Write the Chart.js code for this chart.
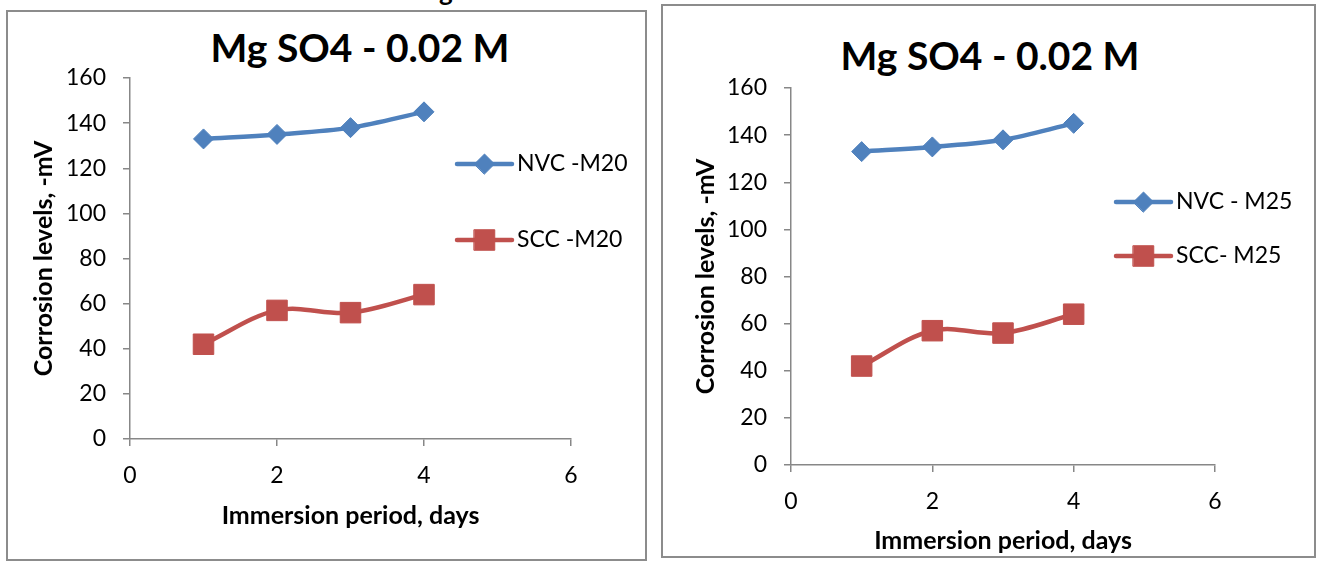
<!DOCTYPE html>
<html><head><meta charset="utf-8">
<script src="https://cdn.jsdelivr.net/npm/chart.js@4"></script>
<style>
html,body{margin:0;padding:0;background:#fff}
body{width:1317px;height:562px;position:relative;overflow:hidden;font-family:Lato,sans-serif}
.panel{position:absolute;border:2px solid #8c8c8c;box-sizing:border-box}
.title{position:absolute;font-weight:bold;font-size:39px;white-space:nowrap;transform:translate(-50%,-50%);color:#000;line-height:1}
.clip{position:absolute;font-weight:bold;font-size:26px;line-height:1;color:#000}
canvas{position:absolute}
</style></head><body>
<div class="clip" style="left:439px;top:-22px">g</div>
<div class="panel" style="left:6px;top:10px;width:641px;height:551px"></div>
<div class="panel" style="left:661px;top:4px;width:655px;height:554px"></div>
<div class="title" style="left:360px;top:47px">Mg SO4 - 0.02 M</div>
<div class="title" style="left:990px;top:55px">Mg SO4 - 0.02 M</div>
<canvas id="c1" width="639" height="549" style="left:7px;top:11px"></canvas>
<canvas id="c2" width="653" height="552" style="left:662px;top:5px"></canvas>
<script>
// ---- data ----
const days = [1, 2, 3, 4];
const nvcM20 = [133, 135, 138, 145];
const sccM20 = [42, 57, 56, 64];
const nvcM25 = [133, 135, 138, 145];
const sccM25 = [42, 57, 56, 64];
const labelsLeft = ['NVC -M20', 'SCC -M20'];
const labelsRight = ['NVC - M25', 'SCC- M25'];
const xTitle = 'Immersion period, days';
const yTitle = 'Corrosion levels, -mV';
const chartTitle = 'Mg SO4 - 0.02 M';

const BLUE = '#4F81BD', RED = '#C0504D', AXIS = '#878787';
const TICKF = 23, TITLEF = 25;

const legendPlugin = {
  id: 'customLegend',
  afterDraw(chart, args, opts) {
    const ctx = chart.ctx;
    (opts.items || []).forEach((it, i) => {
      const ds = chart.data.datasets[i];
      ctx.save();
      ctx.strokeStyle = ds.borderColor;
      ctx.lineWidth = ds.borderWidth;
      ctx.lineCap = 'round';
      ctx.beginPath(); ctx.moveTo(it.x1, it.y); ctx.lineTo(it.x2, it.y); ctx.stroke();
      ctx.fillStyle = ds.pointBackgroundColor;
      ctx.strokeStyle = ds.pointBorderColor;
      ctx.lineWidth = ds.pointBorderWidth;
      Chart.helpers.drawPoint(ctx, {pointStyle: ds.pointStyle, radius: ds.pointRadius, borderWidth: ds.pointBorderWidth, rotation: 0}, (it.x1 + it.x2) / 2, it.y);
      ctx.fillStyle = '#000';
      ctx.font = TICKF + 'px Lato';
      ctx.textBaseline = 'middle';
      ctx.textAlign = 'left';
      ctx.fillText(ds.label, it.tx, it.y);
      ctx.restore();
    });
  }
};

function series(xs, ys) { return xs.map((x, i) => ({x: x, y: ys[i]})); }

function makeChart(id, nvc, scc, labels, L) {
  const ds = (label, data, color, style, r) => ({
    label, data: series(days, data), borderColor: color, backgroundColor: color,
    pointBackgroundColor: color, pointBorderColor: color, pointBorderWidth: 1,
    borderWidth: 4.5, pointStyle: style, pointRadius: r, pointHoverRadius: r,
    tension: 0.35, fill: false
  });
  return new Chart(document.getElementById(id), {
    type: 'line',
    data: { datasets: [ds(labels[0], nvc, BLUE, 'rectRot', 10), ds(labels[1], scc, RED, 'rect', 14.5)] },
    options: {
      responsive: false, animation: false, devicePixelRatio: 1,
      layout: { padding: { left: L.pl, right: L.pr, top: L.pt, bottom: L.pb } },
      plugins: { legend: { display: false }, tooltip: { enabled: false }, title: { display: false },
        customLegend: { items: L.legend } },
      scales: {
        x: {
          type: 'linear', min: 0, max: 6,
          ticks: { stepSize: 2, color: '#000', font: { family: 'Lato', size: TICKF }, padding: 16, maxRotation: 0 },
          grid: { drawOnChartArea: false, drawTicks: true, tickLength: 7, color: AXIS, lineWidth: 1.5 },
          border: { display: true, color: AXIS, width: 1.5 },
          title: { display: true, text: xTitle, color: '#000', font: { family: 'Lato', size: TITLEF, weight: 'bold', lineHeight: 1 }, padding: 0 },
          afterFit(s) { s.height = L.xh; }
        },
        y: {
          min: 0, max: 160,
          ticks: { stepSize: 20, color: '#000', font: { family: 'Lato', size: TICKF }, padding: 17 },
          grid: { drawOnChartArea: false, drawTicks: true, tickLength: 7, color: AXIS, lineWidth: 1.5 },
          border: { display: true, color: AXIS, width: 1.5 },
          title: { display: true, text: yTitle, color: '#000', font: { family: 'Lato', size: TITLEF, weight: 'bold', lineHeight: 1 }, padding: 0 },
          afterFit(s) { s.width = L.yw; }
        }
      }
    },
    plugins: [legendPlugin]
  });
}

makeChart('c1', nvcM20, sccM20, labelsLeft, {
  pl: 24, yw: 99, pr: 75, pt: 67, xh: 89, pb: 32,
  legend: [{x1: 450, x2: 505, y: 153, tx: 510}, {x1: 450, x2: 505, y: 229, tx: 510}]
});
makeChart('c2', nvcM25, sccM25, labelsRight, {
  pl: 31, yw: 98, pr: 100, pt: 83, xh: 88, pb: 4,
  legend: [{x1: 454, x2: 509, y: 197, tx: 514}, {x1: 454, x2: 509, y: 251, tx: 514}]
});
</script>
</body></html>
